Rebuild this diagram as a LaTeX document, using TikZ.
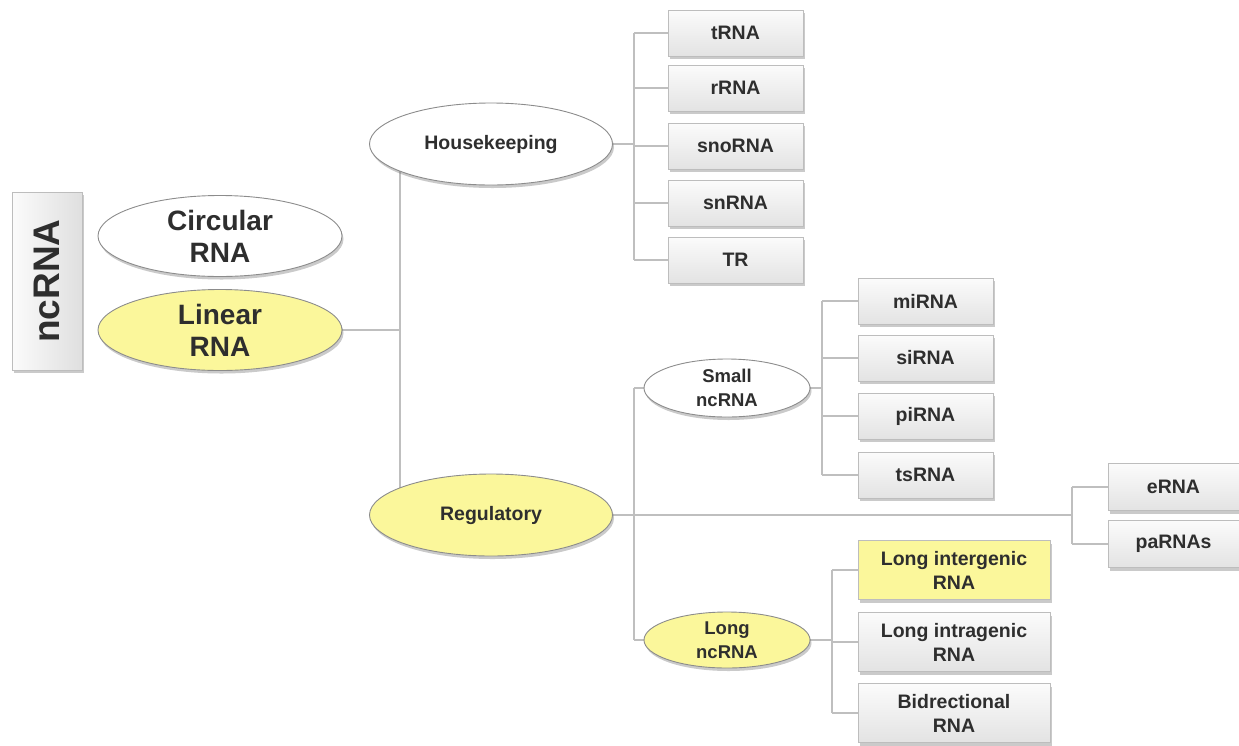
\documentclass[tikz,border=0pt]{standalone}
\usepackage{fontspec}
\setmainfont{Liberation Sans}
\usetikzlibrary{shapes.geometric,shadows,backgrounds}
\definecolor{ylw}{HTML}{FBF79B}
\definecolor{lineg}{HTML}{BFBFBF}
\definecolor{edgeg}{HTML}{8C8C8C}
\definecolor{boxedge}{HTML}{BDBDBD}
\definecolor{txt}{HTML}{2E2E2E}
\tikzset{
  shad/.style={drop shadow={shadow xshift=1.5pt,shadow yshift=-3pt,opacity=0.35,fill=black!60}},
  ell/.style={ellipse,draw=edgeg,line width=0.9pt,inner sep=0pt,align=center,text=txt,font=\bfseries,shad},
  bigell/.style={ell,minimum width=244pt,minimum height=81pt,font=\fontsize{28}{32}\selectfont\bfseries},
  midell/.style={ell,minimum width=243pt,minimum height=82pt,font=\fontsize{19.5}{23}\selectfont\bfseries},
  smell/.style={ell,minimum width=166pt,minimum height=58pt,font=\fontsize{18.5}{24}\selectfont\bfseries},
  gbox/.style={rectangle,draw=boxedge,line width=0.9pt,top color=gray!3,bottom color=gray!22,inner sep=0pt,align=center,text=txt,font=\fontsize{19.5}{24}\selectfont\bfseries,shad},
  sbox/.style={gbox,minimum width=135pt,minimum height=46pt},
  lbox/.style={gbox,minimum width=192pt,minimum height=59pt},
  ebox/.style={gbox,minimum width=131pt,minimum height=47pt},
  conn/.style={draw=lineg,line width=1.4pt},
}
\begin{document}
\begin{tikzpicture}[x=1pt,y=-1pt]
\useasboundingbox (0,0) rectangle (1239,745);
% root
\node[rectangle,draw=boxedge,line width=0.9pt,left color=gray!3,right color=gray!25,minimum width=70pt,minimum height=178pt,inner sep=0pt,shad] (nc) at (47,281) {};
\node[rotate=90,text=txt,font=\fontsize{37}{40}\selectfont\bfseries] (nct) at (nc.center) {ncRNA};
% first level
\node[bigell,fill=white] (circ) at (220,236) {Circular\\RNA};
\node[bigell,fill=ylw] (lin) at (220,330) {Linear\\RNA};
\node[midell,fill=white] (hk) at (491,144) {Housekeeping};
\node[midell,fill=ylw] (reg) at (491,515) {Regulatory};
\node[smell,fill=white] (small) at (727,388) {Small\\ncRNA};
\node[smell,fill=ylw,minimum height=56pt] (long) at (727,640) {Long\\ncRNA};
% housekeeping leaves
\node[sbox] (trna) at (735.5,33) {tRNA};
\node[sbox] (rrna) at (735.5,88) {rRNA};
\node[sbox] (sno) at (735.5,146) {snoRNA};
\node[sbox] (sn) at (735.5,203) {snRNA};
\node[sbox] (tr) at (735.5,260) {TR};
% small leaves
\node[sbox] (mi) at (925.5,301) {miRNA};
\node[sbox] (si) at (925.5,358) {siRNA};
\node[sbox] (pi) at (925.5,416) {piRNA};
\node[sbox] (ts) at (925.5,475) {tsRNA};
% long leaves
\node[lbox,fill=ylw,top color=ylw,bottom color=ylw] (lint) at (954,570) {Long intergenic\\RNA};
\node[lbox] (lintra) at (954,642) {Long intragenic\\RNA};
\node[lbox] (bid) at (954,713) {Bidrectional\\RNA};
% enhancer leaves
\node[ebox] (erna) at (1173.5,487) {eRNA};
\node[ebox] (parna) at (1173.5,544) {paRNAs};
% connectors
\begin{pgfonlayer}{background}
\coordinate (j1) at (400,330);
\draw[conn] (lin.east) -- (j1);
\draw[conn] (hk.center -| j1) -- (reg.center -| j1);
\coordinate (jh) at (634,144);
\draw[conn] (hk.east) -- (jh);
\draw[conn] (jh |- trna.west) -- (jh |- tr.west);
\foreach \b in {trna,rrna,sno,sn,tr} \draw[conn] (jh |- \b.west) -- (\b.west);
\coordinate (jr) at (634,515);
\coordinate (je) at (1072,515);
\draw[conn] (reg.east) -- (je);
\draw[conn] (jr |- small.west) -- (jr |- long.west);
\draw[conn] (jr |- small.west) -- (small.west);
\draw[conn] (jr |- long.west) -- (long.west);
\coordinate (js) at (822,388);
\draw[conn] (small.east) -- (js);
\draw[conn] (js |- mi.west) -- (js |- ts.west);
\foreach \b in {mi,si,pi,ts} \draw[conn] (js |- \b.west) -- (\b.west);
\coordinate (jl) at (832,640);
\draw[conn] (long.east) -- (jl);
\draw[conn] (jl |- lint.west) -- (jl |- bid.west);
\foreach \b in {lint,lintra,bid} \draw[conn] (jl |- \b.west) -- (\b.west);
\draw[conn] (je |- erna.west) -- (je |- parna.west);
\foreach \b in {erna,parna} \draw[conn] (je |- \b.west) -- (\b.west);
\end{pgfonlayer}
\end{tikzpicture}
\end{document}
